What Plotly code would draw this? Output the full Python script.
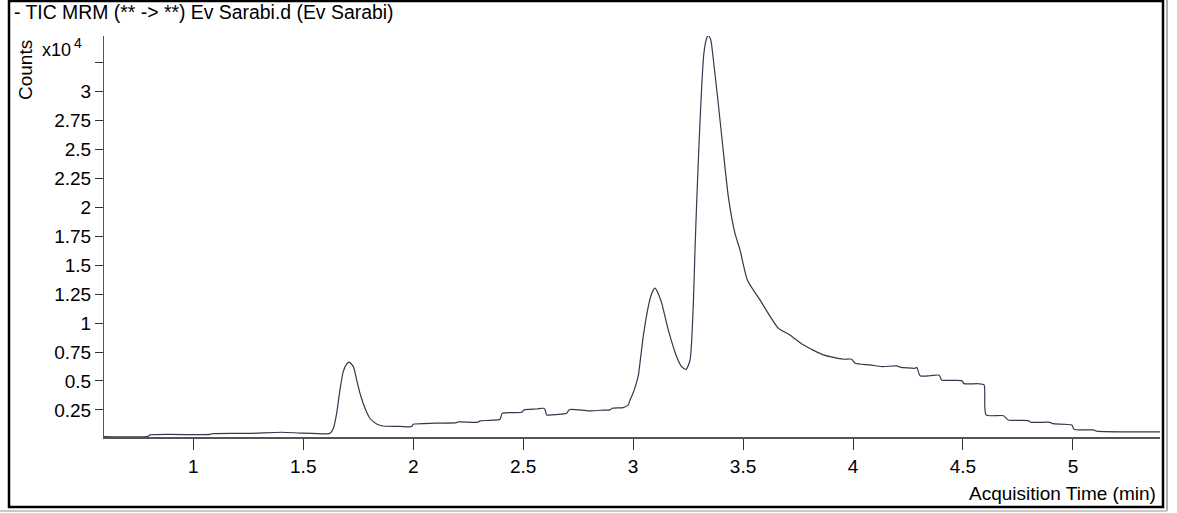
import plotly.graph_objects as go

# TIC MRM chromatogram, acquisition time (min) vs counts (x10^4)
time_min = [
    0.594, 0.795, 0.803, 1.076, 1.084, 1.258, 1.402, 1.485, 1.607, 1.622,
    1.637, 1.652, 1.667, 1.682, 1.698, 1.709, 1.728, 1.743, 1.758, 1.781,
    1.803, 1.834, 1.864, 1.940, 1.993, 2.000, 2.099, 2.198, 2.204, 2.295,
    2.304, 2.349, 2.395, 2.405, 2.493, 2.504, 2.562, 2.592, 2.599, 2.607,
    2.653, 2.698, 2.709, 2.759, 2.804, 2.850, 2.895, 2.905, 2.955, 2.978,
    2.986, 3.001, 3.016, 3.024, 3.046, 3.069, 3.085, 3.100, 3.115, 3.130,
    3.160, 3.198, 3.221, 3.241, 3.259, 3.274, 3.281, 3.289, 3.301, 3.312,
    3.322, 3.335, 3.342, 3.353, 3.365, 3.387, 3.406, 3.433, 3.463, 3.486,
    3.520, 3.577, 3.660, 3.713, 3.774, 3.865, 3.956, 3.994, 4.009, 4.077,
    4.131, 4.199, 4.214, 4.282, 4.290, 4.305, 4.350, 4.392, 4.403, 4.494,
    4.505, 4.570, 4.596, 4.605, 4.684, 4.706, 4.797, 4.808, 4.896, 4.908,
    4.995, 5.005, 5.093, 5.108, 5.396,
]
counts_e4 = [
    0.020, 0.022, 0.034, 0.038, 0.044, 0.047, 0.057, 0.050, 0.043, 0.048,
    0.092, 0.221, 0.423, 0.581, 0.647, 0.662, 0.624, 0.509, 0.394, 0.264,
    0.178, 0.129, 0.111, 0.108, 0.106, 0.126, 0.135, 0.140, 0.146, 0.144,
    0.155, 0.160, 0.170, 0.221, 0.230, 0.250, 0.258, 0.264, 0.255, 0.207,
    0.210, 0.221, 0.252, 0.250, 0.241, 0.247, 0.250, 0.264, 0.270, 0.293,
    0.336, 0.400, 0.490, 0.550, 0.883, 1.143, 1.258, 1.302, 1.252, 1.172,
    0.941, 0.710, 0.624, 0.600, 0.682, 1.172, 1.604, 2.036, 2.598, 3.044,
    3.333, 3.462, 3.482, 3.448, 3.275, 2.901, 2.560, 2.093, 1.777, 1.633,
    1.370, 1.200, 0.956, 0.898, 0.812, 0.725, 0.688, 0.688, 0.653, 0.639,
    0.624, 0.630, 0.620, 0.610, 0.618, 0.546, 0.545, 0.550, 0.509, 0.503,
    0.477, 0.476, 0.466, 0.207, 0.200, 0.163, 0.157, 0.143, 0.143, 0.131,
    0.120, 0.083, 0.077, 0.066, 0.060,
]

x_ticks = [1, 1.5, 2, 2.5, 3, 3.5, 4, 4.5, 5]
x_tick_text = ["1", "1.5", "2", "2.5", "3", "3.5", "4", "4.5", "5"]
y_ticks = [0.25, 0.5, 0.75, 1, 1.25, 1.5, 1.75, 2, 2.25, 2.5, 2.75, 3, 3.25]
y_tick_text = ["0.25", "0.5", "0.75", "1", "1.25", "1.5", "1.75", "2",
               "2.25", "2.5", "2.75", "3", ""]

title_text = "- TIC MRM (** -> **) Ev Sarabi.d (Ev Sarabi)"
x_title = "Acquisition Time (min)"
y_title = "Counts"

# page and plot-area geometry in pixels
W, H = 1177, 513
L, R, T, B = 104, 1160, 36, 437
FONT = "Liberation Sans, Arial, sans-serif"
INK = "#2f3a4c"


def fx(p):
    return (p - L) / (R - L)


def fy(p):
    return (B - p) / (B - T)


fig = go.Figure()
fig.add_trace(go.Scatter(
    x=time_min, y=counts_e4, mode="lines",
    line=dict(color=INK, width=1.2, shape="spline", smoothing=0.6),
    hoverinfo="x+y", showlegend=False,
))

fig.update_layout(
    width=W, height=H,
    margin=dict(l=L, r=W - R, t=T, b=H - B, pad=0),
    paper_bgcolor="white", plot_bgcolor="white",
    font=dict(family=FONT, size=19, color="black"),
    xaxis=dict(
        range=[0.594, 5.396], tickmode="array", tickvals=x_ticks,
        ticktext=x_tick_text, ticks="outside", ticklen=11, tickwidth=1,
        tickcolor="#333", showline=True, linecolor="#555", linewidth=1.5,
        showgrid=False, zeroline=False, tickfont=dict(size=19),
    ),
    yaxis=dict(
        range=[0.016, 3.48], tickmode="array", tickvals=y_ticks,
        ticktext=y_tick_text, ticks="outside", ticklen=8, tickwidth=1,
        tickcolor="#333", showline=True, linecolor="#555", linewidth=1,
        showgrid=False, zeroline=False, tickfont=dict(size=19),
    ),
)

annotations = [
    dict(text=title_text, x=fx(12), y=fy(12), xanchor="left", yanchor="middle",
         font=dict(size=19.4)),
    dict(text=y_title, x=fx(25), y=fy(70), xanchor="center", yanchor="middle",
         textangle=-90, font=dict(size=19)),
    dict(text="x10", x=fx(40), y=fy(50), xanchor="left", yanchor="middle",
         font=dict(size=18)),
    dict(text="4", x=fx(72), y=fy(43), xanchor="left", yanchor="middle",
         font=dict(size=14)),
    dict(text=x_title, x=fx(1158), y=fy(494), xanchor="right", yanchor="middle",
         font=dict(size=19)),
]
for a in annotations:
    fig.add_annotation(xref="paper", yref="paper", showarrow=False, **a)

# outer frame around the whole panel
fig.add_shape(type="rect", xref="paper", yref="paper",
              x0=fx(9), x1=fx(1163), y0=fy(507), y1=fy(1),
              line=dict(color="black", width=2.5), layer="above")
fig.add_shape(type="line", xref="paper", yref="paper",
              x0=fx(1167), x1=fx(1167), y0=fy(511), y1=fy(0),
              line=dict(color="#b0b0b0", width=2))
fig.add_shape(type="line", xref="paper", yref="paper",
              x0=fx(0), x1=fx(1167), y0=fy(511), y1=fy(511),
              line=dict(color="#c8c8c8", width=2))

fig.write_html("out.html")
